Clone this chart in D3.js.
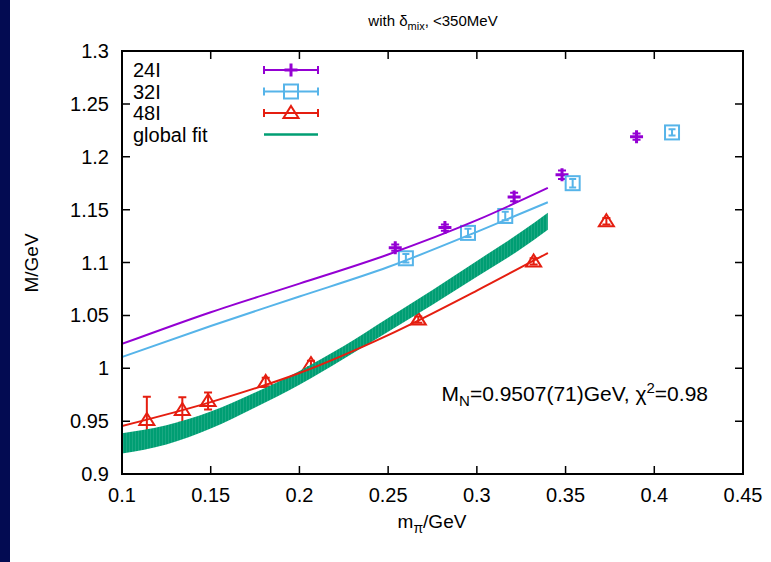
<!DOCTYPE html>
<html>
<head>
<meta charset="utf-8">
<script src="https://cdn.jsdelivr.net/npm/d3@7"></script>
<style>
  body { margin: 0; background: #fff; }
  svg { display: block; font-family: "Liberation Sans", Arial, sans-serif; }
</style>
</head>
<body>
<svg id="chart" width="771" height="562"></svg>
<script>
// lattice data
const mpi24 = [0.254, 0.282, 0.321, 0.348, 0.390]
const m24 = [1.114, 1.133, 1.162, 1.183, 1.219]
const e24 = [0.003, 0.003, 0.004, 0.004, 0.003]

const mpi32 = [0.260, 0.295, 0.316, 0.354, 0.410]
const m32 = [1.104, 1.128, 1.144, 1.175, 1.223]
const e32 = [0.004, 0.004, 0.004, 0.004, 0.003]

const mpi48 = [0.114, 0.134, 0.1485, 0.181, 0.2065, 0.267, 0.332, 0.373]
const m48 = [0.951, 0.9605, 0.969, 0.987, 1.004, 1.046, 1.101, 1.139]
const e48 = [0.022, 0.012, 0.008, 0.004, 0.003, 0.003, 0.003, 0.003]

// fit curves
const fitX = [0.10, 0.15, 0.20, 0.25, 0.30, 0.34]
const fit24 = [1.023, 1.053, 1.080, 1.1076, 1.140, 1.1705]
const fit32 = [1.0106, 1.040, 1.0678, 1.0957, 1.129, 1.157]
const fit48 = [0.9454, 0.968, 0.9955, 1.0314, 1.0735, 1.109]

const bandX = [0.10, 0.125, 0.15, 0.175, 0.20, 0.225, 0.25, 0.275, 0.30, 0.325, 0.34]
const bandMid = [0.929, 0.937, 0.951, 0.970, 0.991, 1.015, 1.041, 1.067, 1.094, 1.121, 1.139]
const bandHalf = [0.0095, 0.009, 0.008, 0.007, 0.0065, 0.006, 0.0065, 0.007, 0.0075, 0.008, 0.008]

const xTicks = [0.1, 0.15, 0.2, 0.25, 0.3, 0.35, 0.4, 0.45]
const yTicks = [0.9, 0.95, 1, 1.05, 1.1, 1.15, 1.2, 1.25, 1.3]

const violet = "#9400d3", sky = "#56b4e9", red = "#e51e10", green = "#009e73"

const margins = {left: 122, top: 51, right: 28, bottom: 88}
const width = 771, height = 562
const fs = 20

const svg = d3.select("#chart")

svg.append("rect")
  .attr("x", 0).attr("y", 0)
  .attr("width", 10).attr("height", height)
  .attr("fill", "#030b52")

const x = d3.scaleLinear().domain([0.1, 0.45]).range([margins.left, width - margins.right])
const y = d3.scaleLinear().domain([0.9, 1.3]).range([height - margins.bottom, margins.top])

const defs = svg.append("defs")
defs.append("clipPath").attr("id", "plot")
  .append("rect")
  .attr("x", x.range()[0]).attr("y", y.range()[1])
  .attr("width", x.range()[1] - x.range()[0])
  .attr("height", y.range()[0] - y.range()[1])

const stripes = defs.append("pattern")
  .attr("id", "stripes")
  .attr("patternUnits", "userSpaceOnUse")
  .attr("width", 3).attr("height", 6)
stripes.append("rect").attr("width", 3).attr("height", 6).attr("fill", green)
stripes.append("rect").attr("width", 1).attr("height", 6).attr("fill", "#1aa882")

// markers
function errbar(g, cx, top, bot, col, cap) {
  g.append("path")
    .attr("d", `M${cx},${top}V${bot}M${cx - cap},${top}h${2 * cap}M${cx - cap},${bot}h${2 * cap}`)
    .attr("stroke", col).attr("stroke-width", 2).attr("fill", "none")
}
function plus(g, cx, cy, col) {
  g.append("path")
    .attr("d", `M${cx - 6.5},${cy}H${cx + 6.5}M${cx},${cy - 6.5}V${cy + 6.5}`)
    .attr("stroke", col).attr("stroke-width", 3).attr("fill", "none")
}
function square(g, cx, cy, col) {
  g.append("rect")
    .attr("x", cx - 7).attr("y", cy - 7).attr("width", 14).attr("height", 14)
    .attr("stroke", col).attr("stroke-width", 2).attr("fill", "none")
}
function triangle(g, cx, cy, col) {
  g.append("path")
    .attr("d", `M${cx},${cy - 7}L${cx + 7.5},${cy + 5}L${cx - 7.5},${cy + 5}Z`)
    .attr("stroke", col).attr("stroke-width", 2).attr("fill", "none")
}

const plot = svg.append("g").attr("clip-path", "url(#plot)")

const pts = plot.append("g")
mpi24.forEach((v, i) => {
  errbar(pts, x(v), y(m24[i] + e24[i]), y(m24[i] - e24[i]), violet, 4)
  plus(pts, x(v), y(m24[i]), violet)
})
mpi32.forEach((v, i) => {
  errbar(pts, x(v), y(m32[i] + e32[i]), y(m32[i] - e32[i]), sky, 3.5)
  square(pts, x(v), y(m32[i]), sky)
})
mpi48.forEach((v, i) => {
  errbar(pts, x(v), y(m48[i] + e48[i]), y(m48[i] - e48[i]), red, 4)
  triangle(pts, x(v), y(m48[i]), red)
})

// global fit band
const band = bandX.map((v, i) => ({x: v, lo: bandMid[i] - bandHalf[i], hi: bandMid[i] + bandHalf[i]}))
plot.append("path")
  .datum(band)
  .attr("fill", "url(#stripes)")
  .attr("d", d3.area()
    .x((d) => x(d.x))
    .y0((d) => y(d.lo))
    .y1((d) => y(d.hi))
    .curve(d3.curveMonotoneX))

const line = d3.line()
  .x((d) => x(d[0]))
  .y((d) => y(d[1]))
  .curve(d3.curveMonotoneX)

;[[fit24, violet], [fit32, sky], [fit48, red]].forEach(([vals, col]) => {
  plot.append("path")
    .datum(fitX.map((v, i) => [v, vals[i]]))
    .attr("fill", "none")
    .attr("stroke", col)
    .attr("stroke-width", 2)
    .attr("d", line)
})

// frame and ticks (mirrored, pointing inward)
const frame = svg.append("g")
frame.append("rect")
  .attr("x", x.range()[0]).attr("y", y.range()[1])
  .attr("width", x.range()[1] - x.range()[0])
  .attr("height", y.range()[0] - y.range()[1])
  .attr("fill", "none").attr("stroke", "#000").attr("stroke-width", 2)

const tickLen = 8
xTicks.forEach((t) => {
  frame.append("path")
    .attr("d", `M${x(t)},${y.range()[0]}v${-tickLen}M${x(t)},${y.range()[1]}v${tickLen}`)
    .attr("stroke", "#000").attr("stroke-width", 1.5)
  frame.append("text")
    .attr("x", x(t)).attr("y", y.range()[0] + 28)
    .attr("text-anchor", "middle").attr("font-size", fs)
    .text(d3.format("")(t))
})
yTicks.forEach((t) => {
  frame.append("path")
    .attr("d", `M${x.range()[0]},${y(t)}h${tickLen}M${x.range()[1]},${y(t)}h${-tickLen}`)
    .attr("stroke", "#000").attr("stroke-width", 1.5)
  frame.append("text")
    .attr("x", x.range()[0] - 13).attr("y", y(t) + 7)
    .attr("text-anchor", "end").attr("font-size", fs)
    .text(d3.format("")(t))
})

// title and axis labels
const title = svg.append("text")
  .attr("x", 433).attr("y", 26).attr("text-anchor", "middle").attr("font-size", 15)
title.append("tspan").text("with δ")
title.append("tspan").attr("font-size", 11).attr("dy", 4).text("mix")
title.append("tspan").attr("dy", -4).text(", <350MeV")

const xl = svg.append("text")
  .attr("x", 432).attr("y", 528).attr("text-anchor", "middle").attr("font-size", 19)
xl.append("tspan").text("m")
xl.append("tspan").attr("font-size", 14).attr("dy", 5).text("π")
xl.append("tspan").attr("dy", -5).text("/GeV")

svg.append("text")
  .attr("transform", "translate(38,263) rotate(-90)")
  .attr("text-anchor", "middle").attr("font-size", 19)
  .text("M/GeV")

const ann = svg.append("text")
  .attr("x", 708).attr("y", 401).attr("text-anchor", "end").attr("font-size", 21)
ann.append("tspan").text("M")
ann.append("tspan").attr("font-size", 15).attr("dy", 5).text("N")
ann.append("tspan").attr("dy", -5).text("=0.9507(71)GeV, χ")
ann.append("tspan").attr("font-size", 15).attr("dy", -8).text("2")
ann.append("tspan").attr("dy", 8).text("=0.98")

// legend
const legend = [
  {label: "24I", col: violet, mark: plus},
  {label: "32I", col: sky, mark: square},
  {label: "48I", col: red, mark: triangle},
  {label: "global fit", col: green, mark: null}
]
const leg = svg.append("g")
legend.forEach((d, i) => {
  const ly = 70 + i * 21.5
  leg.append("text").attr("x", 133).attr("y", ly + 7).attr("font-size", fs).text(d.label)
  if (d.mark) {
    leg.append("path")
      .attr("d", `M264,${ly}H318M264,${ly - 4}v8M318,${ly - 4}v8`)
      .attr("stroke", d.col).attr("stroke-width", 2)
    d.mark(leg, 291, ly, d.col)
  } else {
    leg.append("line").attr("x1", 264).attr("x2", 318).attr("y1", ly).attr("y2", ly)
      .attr("stroke", d.col).attr("stroke-width", 2.5)
  }
})
</script>
</body>
</html>
